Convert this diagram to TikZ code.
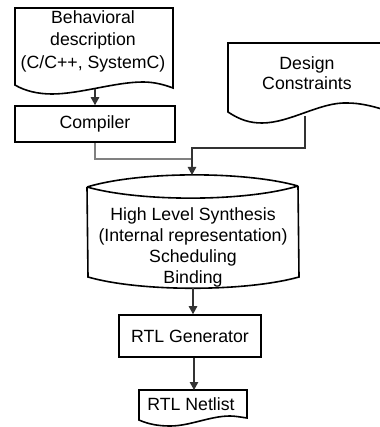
\documentclass[tikz,border=0pt]{standalone}
\usepackage{fontspec}
\setmainfont{Liberation Sans}
\usetikzlibrary{arrows.meta}
\begin{document}
\begin{tikzpicture}[x=1pt,y=-1pt,
  outline/.style={draw=black,line width=1.6pt,line join=miter},
  label/.style={font=\fontsize{17.7}{22}\selectfont,align=center,inner sep=0pt},
  stepbox/.style={outline,label,inner sep=0pt},
  conn/.style={draw=black!80,line width=1.1pt,
    -{Triangle[length=8pt,width=8.5pt]}},
  feed/.style={draw=black!50,line width=1.1pt}]
\useasboundingbox (0,0) rectangle (379,427);
\fill[white] (0,0) rectangle (379,427);

% behavioral description (document shape)
\draw[outline] (15,85) -- (15,8) -- (173,8) -- (173,88)
  .. controls (165,85) and (155,82) .. (143,82)
  .. controls (115,82) and (80,94) .. (52,94)
  .. controls (38,94) and (25,91) .. (15,85) -- cycle;
\node[label,font=\fontsize{17.7}{22.5}\selectfont] (beh) at (93,41)
  {Behavioral\\description\\(C/C++, SystemC)};
\coordinate (behout) at (95,89);

% compiler
\node[stepbox,minimum width=160pt,minimum height=36pt] (comp) at (95,124) {Compiler};

% design constraints (document shape, running off the right edge)
\draw[outline] (228,112) -- (228,43) -- (385,43) -- (385,110)
  .. controls (372,106) and (360,103) .. (347,103)
  .. controls (320,102) and (290,123) .. (262,123)
  .. controls (250,123) and (240,120) .. (228,112) -- cycle;
\node[label,font=\fontsize{17.7}{20.5}\selectfont] (cons) at (307,73) {Design\\Constraints};
\coordinate (consout) at (305,116);

% high level synthesis (storage cylinder)
\draw[outline] (87,187) .. controls (140,171) and (245,171) .. (298,186);
\draw[outline] (87,187) .. controls (140,202) and (245,202) .. (298,186);
\draw[outline] (87,187) -- (88,277)
  .. controls (140,292) and (245,292) .. (299,277) -- (298,186);
\node[label,font=\fontsize{17.7}{21}\selectfont] (hls) at (193,247)
  {High Level Synthesis\\(Internal representation)\\Scheduling\\Binding};
\coordinate (hlsin) at (192,175);
\coordinate (hlsout) at (193,288);

% RTL generator
\node[stepbox,minimum width=142pt,minimum height=42pt] (gen) at (190,336) {RTL Generator};

% RTL netlist (document shape)
\draw[outline] (139,420) -- (139,390) -- (247,390) -- (247,418)
  .. controls (240,417) and (235,416) .. (230,416)
  .. controls (210,416) and (190,426) .. (170,426)
  .. controls (158,426) and (148,424) .. (139,420) -- cycle;
\node[label] (net) at (191,404) {RTL Netlist};
\coordinate (netin) at (194,390);

% connectors
\coordinate (feedjoin) at (192,159);
\coordinate (consturn) at (192,148);
\draw[conn] (behout) -- (comp.north);
\draw[feed] (comp.south) |- (feedjoin);
\draw[conn] (consout) |- (consturn) -- (hlsin);
\draw[conn] (hlsout) -- (hlsout |- gen.north);
\draw[conn] (gen.south -| netin) -- (netin);
\end{tikzpicture}
\end{document}
